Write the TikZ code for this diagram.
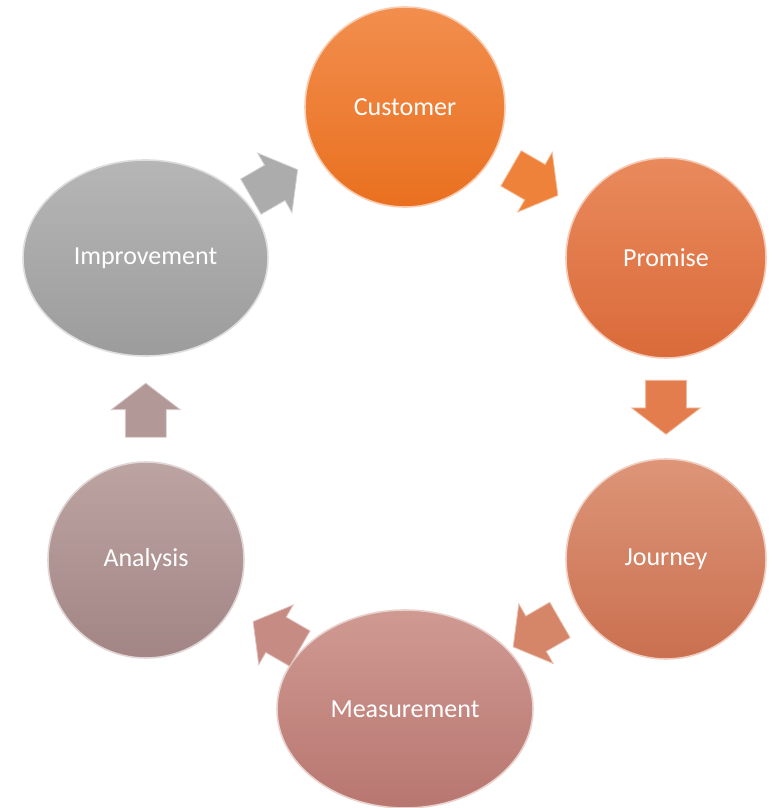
\documentclass[tikz,border=0pt]{standalone}
\usepackage{fontspec}
\setmainfont{Carlito}
\usetikzlibrary{shapes.geometric,shapes.arrows,calc}
\definecolor{custTop}{HTML}{F28E4E}
\definecolor{custBot}{HTML}{E9701F}
\definecolor{promTop}{HTML}{E98A5C}
\definecolor{promBot}{HTML}{DA6A3A}
\definecolor{jourTop}{HTML}{DD9578}
\definecolor{jourBot}{HTML}{CA7050}
\definecolor{measTop}{HTML}{CF9A92}
\definecolor{measBot}{HTML}{B87670}
\definecolor{analTop}{HTML}{BCA4A3}
\definecolor{analBot}{HTML}{A28584}
\definecolor{imprTop}{HTML}{B6B6B6}
\definecolor{imprBot}{HTML}{9C9C9C}
\begin{document}
\begin{tikzpicture}[x=1pt,y=-1pt,
    stage/.style={ellipse,inner sep=0pt,text=white,line width=1.6pt,
      font=\fontsize{26}{31}\selectfont},
    blockarr/.style={single arrow,inner sep=0pt,text height=40pt,text depth=0pt,text width=0pt,
      minimum height=54pt,single arrow head extend=14pt,single arrow tip angle=105,
      line width=.8pt}]
    \useasboundingbox (0,0) rectangle (774,808);
    \node[stage,minimum width=200pt,minimum height=200pt,top color=custTop,bottom color=custBot,draw=custTop!45!white] (cust) at (405,107) {Customer};
    \node[stage,minimum width=200pt,minimum height=200pt,top color=promTop,bottom color=promBot,draw=promTop!45!white] (prom) at (666,258) {Promise};
    \node[stage,minimum width=200pt,minimum height=200pt,top color=jourTop,bottom color=jourBot,draw=jourTop!45!white] (jour) at (666,559) {Journey};
    \node[stage,minimum width=256pt,minimum height=198pt,top color=measTop,bottom color=measBot,draw=measTop!45!white] (meas) at (405,709) {Measurement};
    \node[stage,minimum width=196pt,minimum height=196pt,top color=analTop,bottom color=analBot,draw=analTop!45!white] (anal) at (146,560) {Analysis};
    \node[stage,minimum width=245pt,minimum height=196pt,top color=imprTop,bottom color=imprBot,draw=imprTop!45!white] (impr) at (145.5,258) {Improvement};
    \node[blockarr,rotate=-30,fill=custTop!60!custBot,draw=custTop!60!white] (a1) at ($(cust)!0.47!(prom)$) {};
    \node[blockarr,rotate=-90,fill=promTop!60!promBot,draw=promTop!60!white] (a2) at ($(prom)!0.47!(jour)$) {};
    \node[blockarr,rotate=-150,fill=jourTop!60!jourBot,draw=jourTop!60!white] (a3) at ($(jour)!0.47!(meas)$) {};
    \node[blockarr,rotate=150,fill=measTop!60!measBot,draw=measTop!60!white] (a4) at ($(meas)!0.47!(anal)$) {};
    \node[blockarr,rotate=90,fill=analTop!60!analBot,draw=analTop!60!white] (a5) at ($(anal)!0.47!(impr)$) {};
    \node[blockarr,rotate=30,fill=imprTop!60!imprBot,draw=imprTop!60!white] (a6) at ($(impr)!0.47!(cust)$) {};
\end{tikzpicture}
\end{document}
